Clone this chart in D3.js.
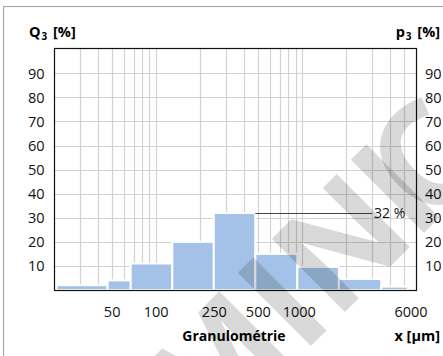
<!DOCTYPE html>
<html><head><meta charset="utf-8">
<script src="https://cdn.jsdelivr.net/npm/d3@7"></script>
<style>
html,body{margin:0;padding:0;background:#fff;}
svg{display:block;}
text{font-family:"Open Sans","Noto Sans",sans-serif;}
</style></head>
<body>
<script>
// bin edges in µm (log scale) and class percentages p3
const binEdges = [20.8, 46.6, 67, 129, 248, 477, 925, 1780, 3470, 5260];
const binValues = [2, 4, 11, 20, 32, 15, 9.6, 4.6, 1.4];
const xTickLabels = [50, 100, 250, 500, 1000, 6000];
const xGridValues = [30,40,50,60,70,80,90,100,200,300,400,500,600,700,800,900,1000,2000,3000,4000,5000];
const yTickValues = [10,20,30,40,50,60,70,80,90];
const peakLabel = "32 %";
const watermarkLetters = ["M","I","N","I","C"];

const W = 443, H = 356;
const m = {left:54, right:416, top:48, bottom:290};

const svg = d3.select("body").append("svg").attr("width", W).attr("height", H);

// outer frame
svg.append("rect").attr("x",3.5).attr("y",6.5).attr("width",W+20).attr("height",H+20)
  .attr("fill","none").attr("stroke","#a8a8a8").attr("stroke-width",1.2);

const x = d3.scaleLog().domain([20, 6000]).range([m.left, m.right]);
const y = d3.scaleLinear().domain([0, 100.5]).range([m.bottom, m.top]);

const g = svg.append("g");
// grid
g.selectAll(".vg").data(xGridValues).join("line")
  .attr("x1", d=>Math.round(x(d))+0.5).attr("x2", d=>Math.round(x(d))+0.5)
  .attr("y1", m.top).attr("y2", m.bottom)
  .attr("stroke","#d2d2d2").attr("stroke-width",1.2);
g.selectAll(".hg").data(yTickValues).join("line")
  .attr("y1", d=>Math.round(y(d))+0.5).attr("y2", d=>Math.round(y(d))+0.5)
  .attr("x1", m.left).attr("x2", m.right)
  .attr("stroke","#d2d2d2").attr("stroke-width",1.2);

// bars
const bins = binValues.map((v,i)=>({x0:binEdges[i], x1:binEdges[i+1], v}));
g.selectAll(".bar").data(bins).join("rect")
  .attr("x", d=>x(d.x0)).attr("width", d=>x(d.x1)-x(d.x0))
  .attr("y", d=>y(d.v)).attr("height", d=>y(0)-y(d.v))
  .attr("fill","#a4c2e8").attr("stroke","#fff").attr("stroke-width",2);

// plot frame
svg.append("rect").attr("x",m.left+0.5).attr("y",m.top+0.5)
  .attr("width",m.right-m.left).attr("height",m.bottom-m.top)
  .attr("fill","none").attr("stroke","#111").attr("stroke-width",1.2);

// peak annotation
const peak = bins[d3.maxIndex(bins, d=>d.v)];
svg.append("line").attr("x1", x(peak.x1)).attr("x2", 372)
  .attr("y1", Math.round(y(peak.v))+0.5).attr("y2", Math.round(y(peak.v))+0.5)
  .attr("stroke","#444").attr("stroke-width",1);
svg.append("text").attr("x",374).attr("y", y(peak.v)).attr("dy","0.35em")
  .attr("font-size",14).attr("fill","#111").text(peakLabel);

// y axis labels left / right
svg.selectAll(".yl").data(yTickValues).join("text")
  .attr("x", 44.5).attr("y", d=>y(d)).attr("dy","0.36em").attr("text-anchor","end")
  .attr("font-size",14.5).attr("fill","#111").text(d=>d);
svg.selectAll(".yr").data(yTickValues).join("text")
  .attr("x", 425).attr("y", d=>y(d)).attr("dy","0.36em").attr("text-anchor","start")
  .attr("font-size",14.5).attr("fill","#111").text(d=>d);

// x labels
svg.selectAll(".xl").data(xTickLabels).join("text")
  .attr("x", d=>x(d)).attr("y", 317).attr("text-anchor","middle")
  .attr("dx", d=> d===6000 ? -5 : (d===1000 ? -3 : 0))
  .attr("font-size",14.5).attr("fill","#111").text(d=>d);

// axis titles
const t1 = svg.append("text").attr("x",29).attr("y",37).attr("font-size",14.5).attr("font-weight","bold").attr("fill","#000");
t1.append("tspan").text("Q");
t1.append("tspan").attr("font-size",10).attr("dx",1).attr("dy",3).text("3");
t1.append("tspan").attr("dy",-3).attr("dx",2).text(" [%]");
const t2 = svg.append("text").attr("x",440).attr("y",37).attr("text-anchor","end").attr("font-size",14.5).attr("font-weight","bold").attr("fill","#000");
t2.append("tspan").text("p");
t2.append("tspan").attr("font-size",10).attr("dx",1).attr("dy",3).text("3");
t2.append("tspan").attr("dy",-3).attr("dx",2).text(" [%]");

svg.append("text").attr("x",234).attr("y",341).attr("text-anchor","middle")
  .attr("font-size",14).attr("font-weight","bold").attr("fill","#000").text("Granulométrie");
svg.append("text").attr("x",440).attr("y",341).attr("text-anchor","end")
  .attr("font-size",14.5).attr("font-weight","bold").attr("fill","#000").text("x [µm]");

// watermark
const wm = svg.append("text").attr("transform","translate(205,452) rotate(-45)")
  .attr("font-family","DejaVu Sans").attr("font-weight","bold").attr("font-size",145)
  .attr("fill","#000").attr("fill-opacity",0.15);
wm.selectAll("tspan").data(watermarkLetters).join("tspan")
  .attr("dx", (d,i)=> i===4 ? -28 : (i===3 ? -6 : 0)).text(d=>d);
</script>
</body></html>
